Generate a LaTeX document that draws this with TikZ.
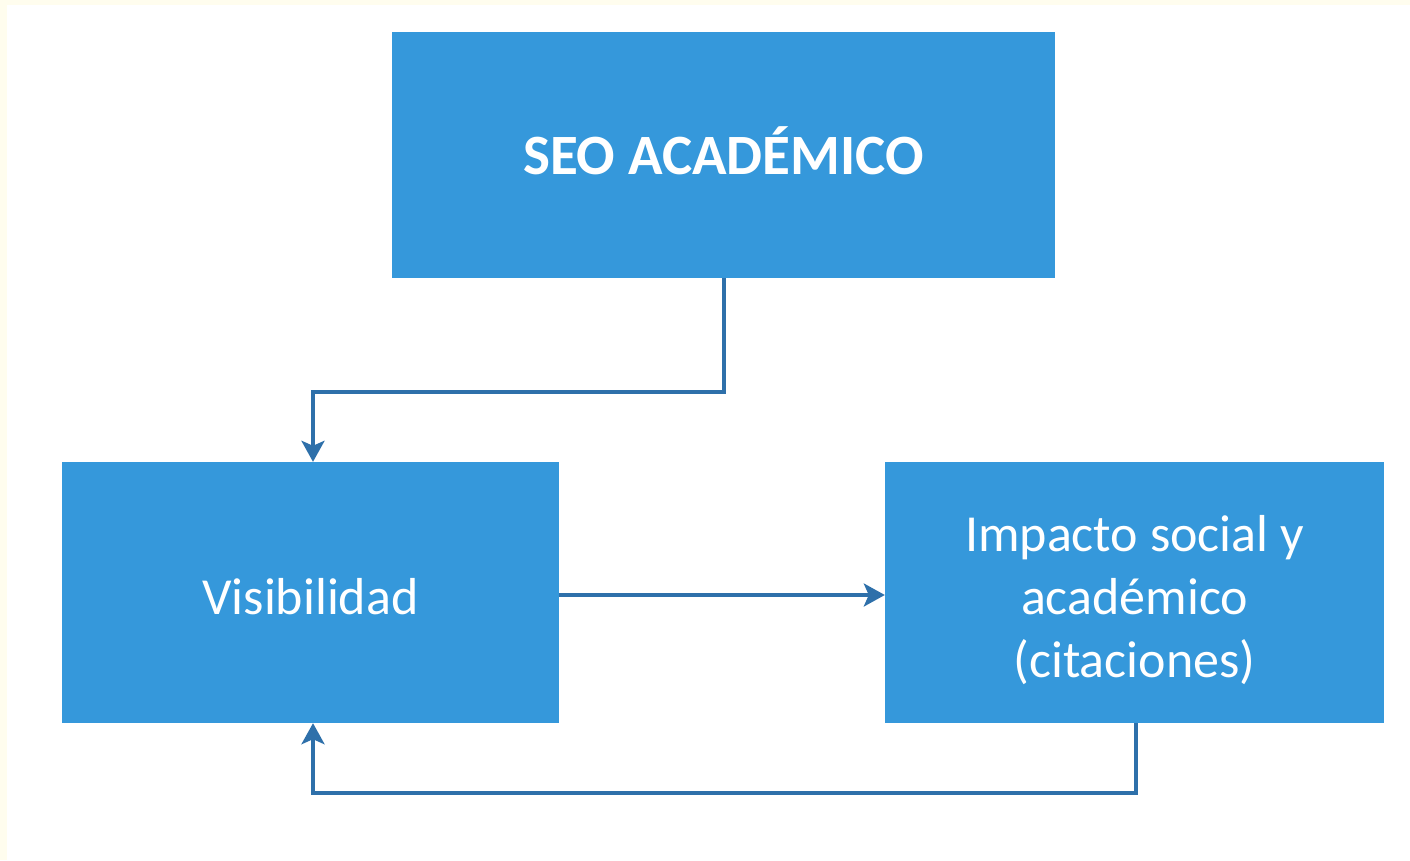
\documentclass[tikz,border=0pt]{standalone}
\usepackage{fontspec}
\setmainfont{Carlito}
\usetikzlibrary{arrows.meta}
\definecolor{boxblue}{RGB}{53,152,219}
\definecolor{linkblue}{RGB}{46,112,170}
\definecolor{cream}{RGB}{255,253,238}
\tikzset{
  box/.style={fill=boxblue, draw=none, inner sep=0pt},
  label text/.style={text=white, inner sep=0pt, align=center},
  link/.style={draw=linkblue, line width=3.5pt, -{Stealth[length=21pt,width=23pt,inset=5pt]}}
}
\begin{document}
\begin{tikzpicture}[x=1pt,y=-1pt]
\fill[cream] (0,0) rectangle (1410,860);
\fill[white] (7,5) rectangle (1410,860);
\useasboundingbox (0,0) rectangle (1410,860);
\node[box, minimum width=663pt, minimum height=246pt] (seo) at (723.5,155) {};
\node[box, minimum width=497pt, minimum height=261pt] (vis) at (310.5,592.5) {};
\node[box, minimum width=499pt, minimum height=261pt] (imp) at (1134.5,592.5) {};
\node[label text, font=\fontsize{57}{68}\selectfont\bfseries] (seot) at ([yshift=4pt]seo.center) {SEO ACADÉMICO};
\node[label text, font=\fontsize{52}{63}\selectfont] (vist) at ([yshift=-4pt]vis.center) {Visibilidad};
\node[label text, font=\fontsize{52}{63}\selectfont] (impt) at ([yshift=-8pt]imp.center) {Impacto social y\\académico\\(citaciones)};
\coordinate (c1) at (724,392);
\coordinate (c2) at (313,392);
\coordinate (c3) at (1136,793);
\coordinate (c4) at (313,793);
\draw[link] (seo.south -| c1) -- (c1) -- (c2) -- (c2 |- vis.north);
\draw[link] (vis.east |- 0,595) -- (imp.west |- 0,595);
\draw[link] (imp.south -| c3) -- (c3) -- (c4) -- (c4 |- vis.south);
\end{tikzpicture}
\end{document}
